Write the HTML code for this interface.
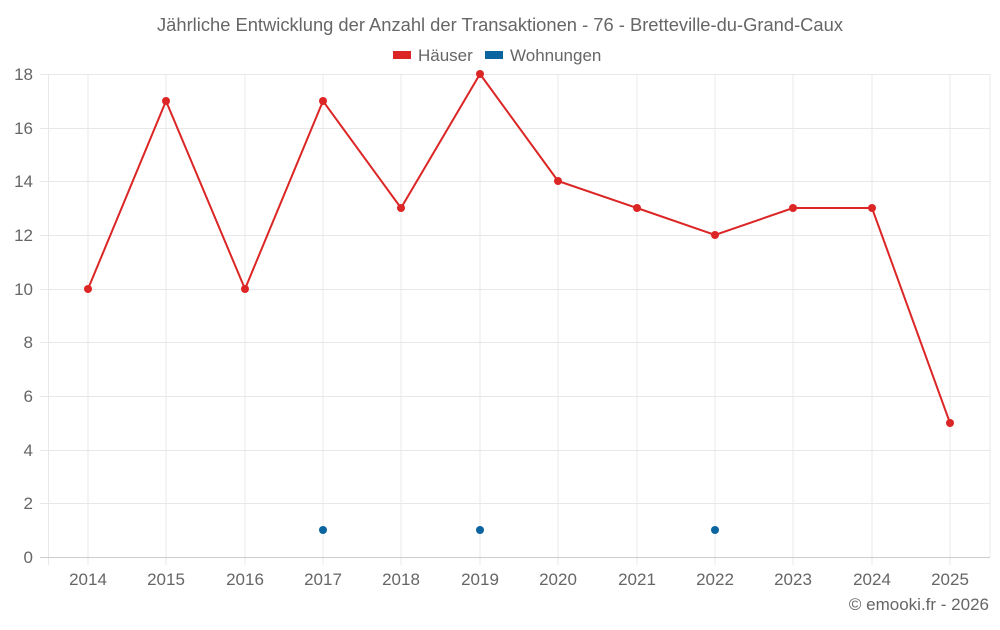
<!DOCTYPE html>
<html><head><meta charset="utf-8"><style>
body{margin:0;background:#fff;}
svg text{font-family:"Liberation Sans",sans-serif;fill:#666;}
</style></head><body>
<svg width="1000" height="625" xmlns="http://www.w3.org/2000/svg">
<text x="500" y="31" text-anchor="middle" font-size="18" textLength="686" lengthAdjust="spacingAndGlyphs">Jährliche Entwicklung der Anzahl der Transaktionen - 76 - Bretteville-du-Grand-Caux</text>
<rect x="393" y="51" width="18" height="8" fill="#dc2626"/>
<text x="418" y="61" font-size="17">Häuser</text>
<rect x="485" y="51" width="18" height="8" fill="#0a64a0"/>
<text x="510" y="61" font-size="17">Wohnungen</text>
<g stroke="#e8e8e8" stroke-width="1">
<line x1="40" x2="990" y1="74.5" y2="74.5"/><line x1="40" x2="990" y1="128.5" y2="128.5"/>
<line x1="40" x2="990" y1="181.5" y2="181.5"/><line x1="40" x2="990" y1="235.5" y2="235.5"/>
<line x1="40" x2="990" y1="289.5" y2="289.5"/><line x1="40" x2="990" y1="342.5" y2="342.5"/>
<line x1="40" x2="990" y1="396.5" y2="396.5"/><line x1="40" x2="990" y1="450.5" y2="450.5"/>
<line x1="40" x2="990" y1="503.5" y2="503.5"/>
<line x1="48.5" x2="48.5" y1="74" y2="565"/>
<line x1="88" x2="88" y1="74" y2="565"/><line x1="166" x2="166" y1="74" y2="565"/>
<line x1="245" x2="245" y1="74" y2="565"/><line x1="323" x2="323" y1="74" y2="565"/>
<line x1="401" x2="401" y1="74" y2="565"/><line x1="480" x2="480" y1="74" y2="565"/>
<line x1="558" x2="558" y1="74" y2="565"/><line x1="637" x2="637" y1="74" y2="565"/>
<line x1="715" x2="715" y1="74" y2="565"/><line x1="793" x2="793" y1="74" y2="565"/>
<line x1="872" x2="872" y1="74" y2="565"/><line x1="950" x2="950" y1="74" y2="565"/>
<line x1="990" x2="990" y1="74" y2="557"/>
</g>
<line x1="40" x2="990" y1="557.5" y2="557.5" stroke="#ccc"/>
<g font-size="17" text-anchor="end">
<text x="33" y="80">18</text><text x="33" y="134">16</text><text x="33" y="187">14</text>
<text x="33" y="241">12</text><text x="33" y="295">10</text><text x="33" y="348">8</text>
<text x="33" y="402">6</text><text x="33" y="456">4</text><text x="33" y="509">2</text><text x="33" y="563">0</text>
</g>
<g font-size="17" text-anchor="middle">
<text x="88" y="585">2014</text><text x="166" y="585">2015</text><text x="245" y="585">2016</text>
<text x="323" y="585">2017</text><text x="401" y="585">2018</text><text x="480" y="585">2019</text>
<text x="558" y="585">2020</text><text x="637" y="585">2021</text><text x="715" y="585">2022</text>
<text x="793" y="585">2023</text><text x="872" y="585">2024</text><text x="950" y="585">2025</text>
</g>
<polyline fill="none" stroke="#dc2626" stroke-width="2" points="88,289 166,101 245,289 323,101 401,208 480,74 558,181 637,208 715,235 793,208 872,208 950,423"/>
<g fill="#dc2626">
<circle cx="88" cy="289" r="4"/><circle cx="166" cy="101" r="4"/><circle cx="245" cy="289" r="4"/>
<circle cx="323" cy="101" r="4"/><circle cx="401" cy="208" r="4"/><circle cx="480" cy="74" r="4"/>
<circle cx="558" cy="181" r="4"/><circle cx="637" cy="208" r="4"/><circle cx="715" cy="235" r="4"/>
<circle cx="793" cy="208" r="4"/><circle cx="872" cy="208" r="4"/><circle cx="950" cy="423" r="4"/>
</g>
<g fill="#0a64a0">
<circle cx="323" cy="530" r="4"/><circle cx="480" cy="530" r="4"/><circle cx="715" cy="530" r="4"/>
</g>
<text x="989" y="610" text-anchor="end" font-size="17">© emooki.fr - 2026</text>
</svg>
</body></html>
